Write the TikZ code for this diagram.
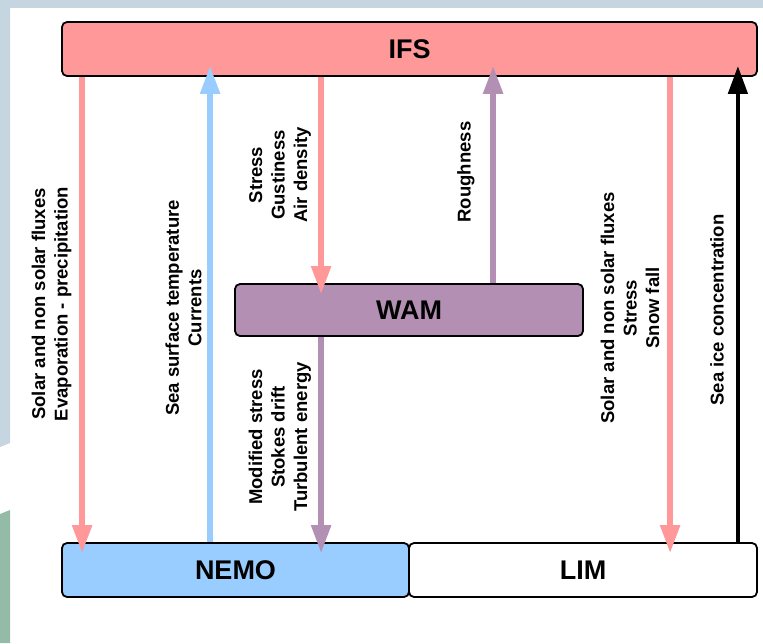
\documentclass[tikz,border=0pt]{standalone}
\usepackage{fontspec}
\setmainfont{Liberation Sans}
\usetikzlibrary{arrows.meta}

\definecolor{ifsred}{RGB}{255,153,153}
\definecolor{nemoblue}{RGB}{153,204,255}
\definecolor{wampurple}{RGB}{180,143,180}
\definecolor{edgegray}{RGB}{197,214,224}
\definecolor{edgegreen}{RGB}{148,186,168}

\tikzset{
  model/.style={draw=black, line width=1.8pt, rounded corners=5pt, inner sep=0pt,
    font=\fontsize{27}{32}\selectfont\bfseries},
  flux/.style={line width=5.5pt, -{Triangle[width=19pt,length=28pt]}, shorten >=-11pt},
  fluxlabel/.style={rotate=90, align=center, inner sep=0pt,
    font=\fontsize{18.5}{22.5}\selectfont\bfseries}
}

\begin{document}
\begin{tikzpicture}[x=1pt,y=-1pt]
\useasboundingbox (0,0) rectangle (763,643);

%% page edges
\fill[edgegray] (0,0) rectangle (763,8);
\fill[edgegray] (0,0) -- (10,0) -- (10,443) -- (0,447) -- cycle;
\fill[edgegreen] (0,514) -- (10,510) -- (10,643) -- (0,643) -- cycle;

%% models
\node[model, fill=ifsred, minimum width=695pt, minimum height=54pt] (ifs) at (409.5,49) {IFS};
\node[model, fill=wampurple, minimum width=348pt, minimum height=52pt] (wam) at (409,310) {WAM};
\node[model, fill=nemoblue, minimum width=347pt, minimum height=54pt] (nemo) at (235.5,570) {NEMO};
\node[model, fill=white, minimum width=348pt, minimum height=54pt] (lim) at (583,570) {LIM};

%% fluxes
\draw[flux, ifsred] ([xshift=21pt]ifs.south west) -- ([xshift=21pt]nemo.north west);
\draw[flux, nemoblue] ([xshift=149pt]nemo.north west) -- ([xshift=149pt]ifs.south west);
\draw[flux, ifsred] ([xshift=260pt]ifs.south west) -- ([xshift=87pt]wam.north west);
\draw[flux, wampurple] ([xshift=259pt]wam.north west) -- ([xshift=432pt]ifs.south west);
\draw[flux, wampurple] ([xshift=87pt]wam.south west) -- ([xshift=260pt]nemo.north west);
\draw[flux, ifsred] ([xshift=609pt]ifs.south west) -- ([xshift=262pt]lim.north west);
\draw[flux, black, line width=4.5pt] ([xshift=-20pt]lim.north east) -- ([xshift=-20pt]ifs.south east);

%% labels
\node[fluxlabel] (atmocean) at (51.5,304) {Solar and non solar fluxes\\Evaporation - precipitation};
\node[fluxlabel] (oceanatm) at (183.5,308) {Sea surface temperature\\Currents};
\node[fluxlabel] (atmwave) at (280,175) {Stress\\Gustiness\\Air density};
\node[fluxlabel] (waveatm) at (466,172) {Roughness};
\node[fluxlabel] (waveocean) at (280,437) {Modified stress\\Stokes drift\\Turbulent energy};
\node[fluxlabel] (atmice) at (630,308) {Solar and non solar fluxes\\Stress\\Snow fall};
\node[fluxlabel] (iceatm) at (717,310) {Sea ice concentration};

\end{tikzpicture}
\end{document}
